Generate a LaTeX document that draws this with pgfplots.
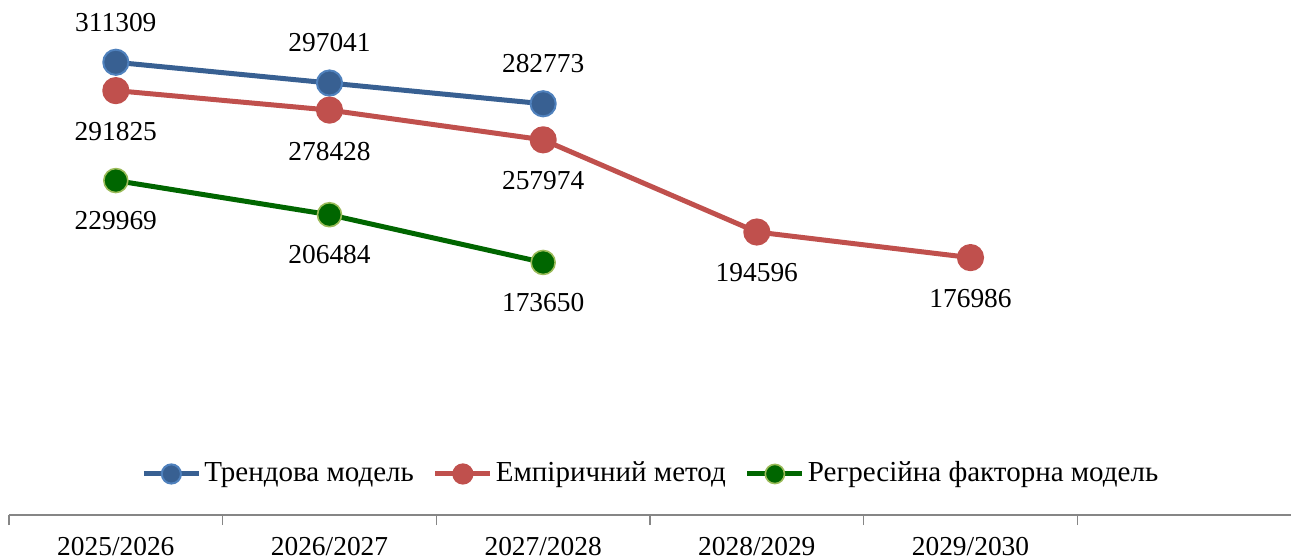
\documentclass[border=0pt]{standalone}
\usepackage{fontspec}
\setmainfont{Liberation Serif}
\usepackage{pgfplots}
\pgfplotsset{compat=1.18}
\definecolor{bl}{HTML}{386092}
\definecolor{blb}{HTML}{4F81BD}
\definecolor{rd}{HTML}{C0504D}
\definecolor{gr}{HTML}{006600}
\definecolor{grb}{HTML}{9BBB59}
\definecolor{axgray}{HTML}{868686}
\begin{document}
\fontsize{13.7pt}{16pt}\selectfont
\begin{tikzpicture}
\begin{axis}[
  scale only axis, width=641pt, height=254.5pt,
  xmin=-0.5, xmax=5.5, ymin=0, ymax=350000,
  axis y line=none, axis x line*=bottom,
  x axis line style={draw=axgray, line width=0.7pt},
  xtick={-0.5,0.5,1.5,2.5,3.5,4.5}, xticklabels={},
  tick align=outside, major tick length=5pt,
  every tick/.style={draw=axgray, line width=0.7pt},
  extra x ticks={0,1,2,3,4},
  extra x tick labels={2025/2026,2026/2027,2027/2028,2028/2029,2029/2030},
  extra x tick style={major tick length=0pt, xticklabel style={anchor=base, inner sep=0pt, yshift=-20pt}},
  clip=false,
  legend style={at={(0.501,0.0806)}, anchor=center, draw=none, fill=none,
    legend columns=3, nodes={inner sep=1.5pt}, font=\fontsize{14.5pt}{17pt}\selectfont,
    /tikz/every even column/.append style={column sep=8pt}},
  legend cell align=left,
  legend image code/.code={\draw[#1, mark repeat=2, mark phase=2, mark size=4.8pt] plot coordinates {(0pt,0pt) (13.75pt,0pt) (27.5pt,0pt)};},
  nodes near coords, point meta=explicit symbolic,
  every node near coord/.append style={text=black, anchor=center, inner sep=0pt},
]
\addplot[color=bl, line width=2.5pt, line join=round, mark=*, mark size=6.3pt,
  mark options={fill=bl, draw=blb, line width=1pt},
  nodes near coords style={yshift=20pt}]
  coordinates {(0,311309)[311309] (1,297041)[297041] (2,282773)[282773]};
\addlegendentry{Трендова модель}
\addplot[color=rd, line width=2.5pt, line join=round, mark=*, mark size=6.3pt,
  mark options={fill=rd, draw=rd, line width=1pt},
  nodes near coords style={yshift=-20.5pt}]
  coordinates {(0,291825)[291825] (1,278428)[278428] (2,257974)[257974] (3,194596)[194596] (4,176986)[176986]};
\addlegendentry{Емпіричний метод}
\addplot[color=gr, line width=2.5pt, line join=round, mark=*, mark size=6pt,
  mark options={fill=gr, draw=grb, line width=0.8pt},
  nodes near coords style={yshift=-20pt}]
  coordinates {(0,229969)[229969] (1,206484)[206484] (2,173650)[173650]};
\addlegendentry{Регресійна факторна модель}
\coordinate (ll) at (rel axis cs:0,0);
\coordinate (ur) at (rel axis cs:1,1);
\end{axis}
\pgfresetboundingbox
\path ([xshift=-4.5pt,yshift=-21.5pt]ll) rectangle ([yshift=3pt]ur);
\end{tikzpicture}
\end{document}
